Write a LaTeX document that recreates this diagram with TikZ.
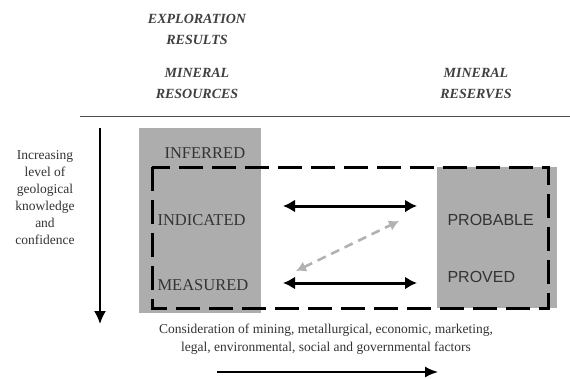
\documentclass[tikz,border=0pt]{standalone}
\usepackage{fontspec}
\setmainfont{Liberation Serif}
\setsansfont{Liberation Sans}
\usetikzlibrary{arrows.meta}

\begin{document}
\begin{tikzpicture}[x=1pt,y=-1pt,
  headtext/.style={font=\fontsize{14}{21}\selectfont\bfseries\itshape,align=center,text=black!75},
  sidetext/.style={font=\fontsize{13.5}{17}\selectfont,align=center,text=black!80},
  classtext/.style={font=\fontsize{16.5}{18}\selectfont,text=black!80,anchor=west},
  resbox/.style={fill=black!32,draw=none},
  dashbox/.style={line width=3pt,dash pattern=on 24pt off 9pt},
  linkarrow/.style={line width=3pt,{Latex[length=12pt,width=13pt]}-{Latex[length=12pt,width=13pt]}},
  grayarrow/.style={line width=2.6pt,black!30,dash pattern=on 9pt off 6pt,{Latex[length=10pt,width=11pt]}-{Latex[length=10pt,width=11pt]}}]
  \useasboundingbox (0,0) rectangle (570,378);
  % headings
  \node[headtext] (explo) at (197,29) {EXPLORATION\\RESULTS};
  \node[headtext] (resources) at (197,83) {MINERAL\\RESOURCES};
  \node[headtext] (reserves) at (476,83) {MINERAL\\RESERVES};
  \draw[line width=1pt,black!70] (80,116) -- (570,116);
  % grey blocks and dashed frame
  \fill[resbox] (139,128) rectangle (261,313);
  \fill[resbox] (437,167) rectangle (557,308);
  \draw[dashbox] (152,167) rectangle (548,308);
  % categories
  \node[classtext] (inferred) at (161,153) {INFERRED};
  \node[classtext] (indicated) at (154,220) {INDICATED};
  \node[classtext] (measured) at (154,285) {MEASURED};
  \node[classtext,font=\sffamily\fontsize{16}{18}\selectfont] (probable) at (444,220) {PROBABLE};
  \node[classtext,font=\sffamily\fontsize{16}{18}\selectfont] (proved) at (444,277) {PROVED};
  % links
  \coordinate (indR) at (283,206);
  \coordinate (probL) at (417,206);
  \coordinate (meaR) at (283,283);
  \coordinate (provL) at (417,283);
  \coordinate (diagA) at (296,271);
  \coordinate (diagB) at (399,221);
  \draw[linkarrow] (indR) -- (probL);
  \draw[linkarrow] (meaR) -- (provL);
  \draw[grayarrow] (diagA) -- (diagB);
  % knowledge axis
  \node[sidetext] (knowledge) at (45,198) {Increasing\\level of\\geological\\knowledge\\and\\confidence};
  \coordinate (axtop) at (100,128);
  \coordinate (axbot) at (100,324);
  \draw[line width=1.8pt,-{Latex[length=13pt,width=12pt]}] (axtop) -- (axbot);
  % modifying factors
  \node[sidetext,font=\fontsize{13.5}{18}\selectfont] (factors) at (326,339) {Consideration of mining, metallurgical, economic, marketing,\\legal, environmental, social and governmental factors};
  \coordinate (fxl) at (217,372);
  \coordinate (fxr) at (438,372);
  \draw[line width=1.8pt,-{Latex[length=13pt,width=11pt]}] (fxl) -- (fxr);
\end{tikzpicture}
\end{document}
